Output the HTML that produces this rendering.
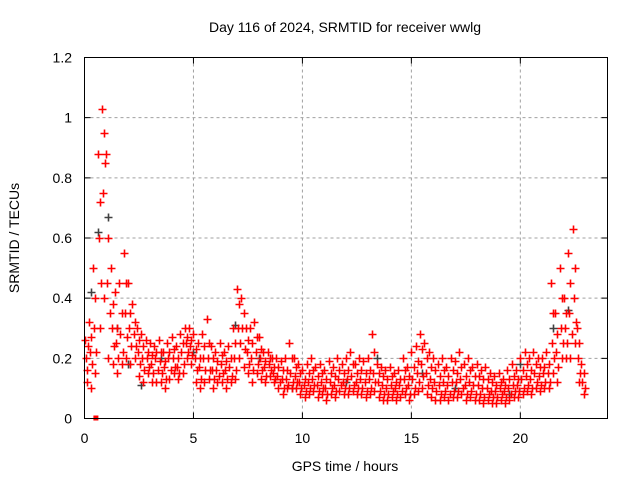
<!DOCTYPE html>
<html><head><meta charset="utf-8">
<style>
html,body{margin:0;padding:0;background:#fff;}
svg{display:block;font-family:"Liberation Sans",sans-serif;}
</style></head><body>
<svg id="chart" width="640" height="480" viewBox="0 0 640 480">
<rect width="640" height="480" fill="#fff"/>
<text x="345" y="32" font-size="14" text-anchor="middle">Day 116 of 2024, SRMTID for receiver wwlg</text>
<text transform="translate(19,238) rotate(-90)" font-size="14" text-anchor="middle">SRMTID / TECUs</text>
<text x="345" y="471" font-size="14" text-anchor="middle">GPS time / hours</text>
<g id="grid"></g>
<g id="ticks"></g>
<g id="gray"></g>
<g id="red"></g>
<rect x="84.5" y="57.5" width="523" height="361" fill="none" stroke="#000" stroke-width="1"/>
</svg>
<script>
const xTicks=[0,5,10,15,20];
const yTicks=[0,0.2,0.4,0.6,0.8,1,1.2];
const yTickLabels=["0","0.2","0.4","0.6","0.8","1","1.2"];
const times=[0,0.2,0.4,0.6,0.8,1.0,1.2,1.4,1.6,1.8,2.0,2.2,2.4,2.6,2.8,3.0,3.2,3.4,3.6,3.8,4.0,4.2,4.4,4.6,4.8,5.0,5.2,5.4,5.6,5.8,6.0,6.2,6.4,6.6,6.8,7.0,7.2,7.4,7.6,7.8,8.0,8.2,8.4,8.6,8.8,9.0,9.2,9.4,9.6,9.8,10.0,10.2,10.4,10.6,10.8,11.0,11.2,11.4,11.6,11.8,12.0,12.2,12.4,12.6,12.8,13.0,13.2,13.4,13.6,13.8,14.0,14.2,14.4,14.6,14.8,15.0,15.2,15.4,15.6,15.8,16.0,16.2,16.4,16.6,16.8,17.0,17.2,17.4,17.6,17.8,18.0,18.2,18.4,18.6,18.8,19.0,19.2,19.4,19.6,19.8,20.0,20.2,20.4,20.6,20.8,21.0,21.2,21.4,21.6,21.8,22.0,22.2,22.4,22.6,22.8];
const hiVals=[0.26,0.32,0.5,0.88,1.03,0.88,0.5,0.42,0.45,0.55,0.45,0.38,0.3,0.28,0.26,0.25,0.24,0.26,0.22,0.25,0.27,0.24,0.28,0.3,0.3,0.28,0.25,0.28,0.33,0.24,0.22,0.25,0.22,0.24,0.3,0.43,0.4,0.3,0.3,0.32,0.27,0.22,0.22,0.2,0.2,0.19,0.2,0.25,0.2,0.18,0.16,0.18,0.2,0.17,0.18,0.16,0.19,0.17,0.2,0.18,0.2,0.22,0.18,0.2,0.19,0.2,0.28,0.18,0.17,0.16,0.17,0.15,0.16,0.2,0.17,0.22,0.24,0.28,0.25,0.22,0.2,0.18,0.2,0.17,0.2,0.19,0.22,0.18,0.2,0.17,0.18,0.16,0.17,0.15,0.14,0.15,0.13,0.16,0.18,0.16,0.2,0.22,0.2,0.22,0.2,0.2,0.22,0.45,0.35,0.5,0.4,0.55,0.63,0.3,0.18];
const midVals=[0.2,0.22,0.3,0.6,0.75,0.45,0.3,0.25,0.28,0.35,0.3,0.28,0.22,0.2,0.2,0.18,0.2,0.19,0.17,0.2,0.2,0.17,0.22,0.25,0.24,0.2,0.17,0.2,0.2,0.16,0.16,0.18,0.16,0.17,0.2,0.3,0.3,0.22,0.2,0.22,0.2,0.17,0.18,0.15,0.14,0.13,0.13,0.15,0.14,0.12,0.11,0.12,0.13,0.11,0.12,0.1,0.12,0.11,0.13,0.12,0.13,0.14,0.12,0.13,0.12,0.13,0.15,0.12,0.11,0.1,0.11,0.1,0.11,0.13,0.11,0.13,0.15,0.18,0.15,0.13,0.12,0.11,0.12,0.11,0.12,0.12,0.13,0.11,0.12,0.11,0.11,0.1,0.1,0.09,0.09,0.1,0.09,0.1,0.11,0.11,0.13,0.14,0.13,0.15,0.14,0.15,0.15,0.25,0.22,0.3,0.3,0.35,0.4,0.2,0.12];
const loVals=[0.12,0.1,0.15,0.3,0.4,0.2,0.18,0.15,0.18,0.2,0.18,0.2,0.14,0.12,0.15,0.12,0.12,0.12,0.1,0.13,0.15,0.13,0.15,0.2,0.18,0.12,0.1,0.12,0.13,0.1,0.12,0.12,0.1,0.12,0.13,0.2,0.17,0.15,0.12,0.15,0.13,0.12,0.14,0.12,0.1,0.08,0.1,0.1,0.1,0.08,0.07,0.08,0.09,0.07,0.08,0.06,0.08,0.07,0.09,0.08,0.08,0.09,0.08,0.08,0.07,0.08,0.09,0.07,0.06,0.06,0.07,0.06,0.07,0.08,0.06,0.08,0.09,0.1,0.08,0.07,0.06,0.06,0.07,0.06,0.07,0.07,0.08,0.06,0.07,0.06,0.06,0.05,0.06,0.05,0.05,0.06,0.05,0.06,0.07,0.07,0.08,0.09,0.08,0.1,0.09,0.1,0.1,0.15,0.12,0.2,0.2,0.2,0.25,0.12,0.08];
const alt1Vals=[0.16,0.27,0.4,0.72,0.95,0.6,0.38,0.3,0.35,0.45,0.35,0.32,0.26,0.24,0.22,0.21,0.22,0.22,0.19,0.22,0.23,0.2,0.25,0.27,0.26,0.23,0.2,0.24,0.25,0.2,0.19,0.21,0.19,0.2,0.25,0.38,0.35,0.26,0.25,0.27,0.23,0.19,0.2,0.17,0.17,0.16,0.16,0.2,0.17,0.15,0.13,0.15,0.16,0.14,0.15,0.13,0.15,0.14,0.16,0.15,0.16,0.18,0.15,0.16,0.15,0.16,0.22,0.15,0.14,0.13,0.14,0.12,0.13,0.16,0.14,0.17,0.19,0.23,0.2,0.17,0.16,0.14,0.16,0.14,0.16,0.15,0.17,0.14,0.16,0.14,0.14,0.13,0.13,0.12,0.11,0.12,0.11,0.13,0.14,0.13,0.16,0.18,0.16,0.18,0.17,0.17,0.18,0.35,0.28,0.4,0.35,0.45,0.5,0.25,0.15];
const alt2Vals=[0.24,0.18,0.22,0.45,0.85,0.35,0.24,0.2,0.22,0.27,0.24,0.24,0.18,0.16,0.17,0.15,0.16,0.15,0.13,0.16,0.17,0.15,0.18,0.22,0.21,0.16,0.13,0.16,0.16,0.13,0.14,0.15,0.13,0.14,0.16,0.25,0.23,0.18,0.16,0.18,0.16,0.14,0.16,0.13,0.12,0.1,0.11,0.12,0.12,0.1,0.09,0.1,0.11,0.09,0.1,0.08,0.1,0.09,0.11,0.1,0.1,0.11,0.1,0.1,0.09,0.1,0.12,0.09,0.08,0.08,0.09,0.08,0.09,0.1,0.08,0.1,0.12,0.14,0.11,0.1,0.09,0.08,0.09,0.08,0.09,0.09,0.1,0.08,0.09,0.08,0.08,0.07,0.08,0.07,0.07,0.08,0.07,0.08,0.09,0.09,0.1,0.11,0.1,0.12,0.11,0.12,0.12,0.2,0.17,0.25,0.25,0.28,0.32,0.15,0.1];
const grayTimes=[0.3,0.6,1.1,1.5,2.0,2.6,3.5,5.0,6.9,8.0,9.5,12.0,13.4,15.5,17.0,19.5,20.0,21.5,22.2];
const grayVals=[0.42,0.62,0.67,0.3,0.18,0.11,0.2,0.22,0.31,0.2,0.1,0.12,0.2,0.15,0.1,0.08,0.18,0.3,0.36];
const zeroTimes=[0.5];
const zeroVals=[0];

const X0=84.5,X1=607.5,Y0=418.5,Y1=57.5;
const xs=t=>X0+t/24*(X1-X0);
const ys=v=>Y0-v/1.2*(Y0-Y1);
const NS="http://www.w3.org/2000/svg";
function mk(tag,attrs,parent){const e=document.createElementNS(NS,tag);for(const k in attrs)e.setAttribute(k,attrs[k]);parent.appendChild(e);return e;}
const grid=document.getElementById('grid'),ticks=document.getElementById('ticks');
xTicks.forEach(t=>{
  const x=xs(t);
  if(t>0){const g=mk('line',{x1:x,x2:x,y1:Y1,y2:Y0,stroke:'#a0a0a0','stroke-dasharray':'3,3'},grid);
  
  }
  const a=mk('path',{d:`M${x},${Y0}v-6M${x},${Y1}v6`,stroke:'#000'},ticks);
  
  
  const l=mk('text',{x:x,y:443,'font-size':14,'text-anchor':'middle'},ticks);
  l.textContent=String(t);
  
  
});
yTicks.forEach((v,i)=>{
  const y=ys(v);
  if(v>0&&v<1.2){const g=mk('line',{x1:X0,x2:X1,y1:y,y2:y,stroke:'#a0a0a0','stroke-dasharray':'3,3'},grid);
  
  }
  const a=mk('path',{d:`M${X0},${y}h6M${X1},${y}h-6`,stroke:'#000'},ticks);
  
  
  const l=mk('text',{x:72,y:y+5,'font-size':14,'text-anchor':'end'},ticks);
  l.textContent=yTickLabels[i];
  
  
});
function plus(parent,t,v,color){
  const x=Math.round(xs(t))+0.5,y=Math.round(ys(v))+0.5;
  const p=mk('path',{d:`M${x-4},${y}h8M${x},${y-4}v8`,stroke:color,'stroke-width':1.6},parent);
  
  
}
const gray=document.getElementById('gray'),red=document.getElementById('red');
grayTimes.forEach((t,i)=>plus(gray,t,grayVals[i],'#404040'));
times.forEach((t,i)=>{
  plus(red,t,hiVals[i],'#ff0000');
  plus(red,t+0.05,midVals[i],'#ff0000');
  plus(red,t+0.1,loVals[i],'#ff0000');
  plus(red,t+0.1,alt1Vals[i],'#ff0000');
  plus(red,t+0.15,alt2Vals[i],'#ff0000');
});
zeroTimes.forEach((t,i)=>{
  const r=mk('rect',{x:xs(t)-2,y:ys(zeroVals[i])-3,width:5,height:5,fill:'#ff0000'},red);
  
  
});
</script>
</body></html>
